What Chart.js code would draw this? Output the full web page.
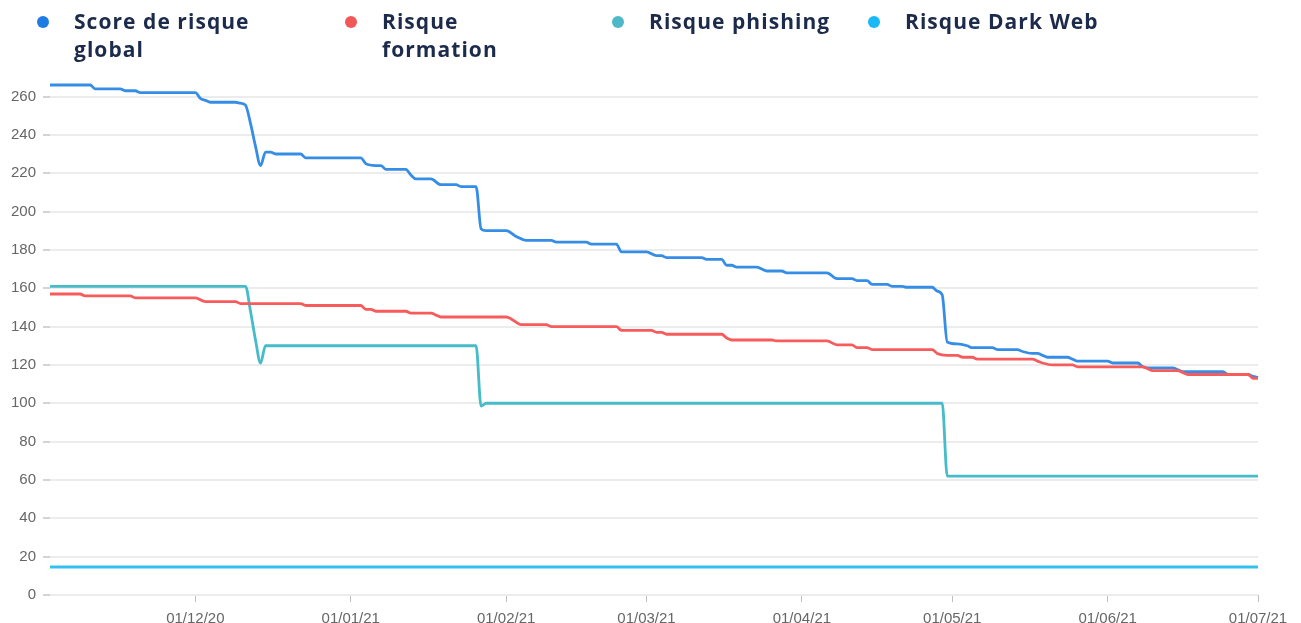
<!DOCTYPE html>
<html lang="fr">
<head>
<meta charset="utf-8">
<title>Évolution du score de risque</title>
<script src="https://cdn.jsdelivr.net/npm/chart.js@4.4.1/dist/chart.umd.min.js"></script>
<style>
  html, body { margin: 0; padding: 0; background: #fff; overflow: hidden; }
  #wrap { position: relative; width: 1301px; height: 623px; overflow: hidden; }
  #chart { position: absolute; left: 0; top: 0; }
  .legend-item {
    position: absolute; top: 0;
    font-family: 'Open Sans', sans-serif; font-weight: 700;
    font-size: 21px; line-height: 28px; letter-spacing: 1.05px;
    color: #1c2b4b;
  }
  .legend-item .dot { position: absolute; top: 16px; left: 0; width: 12px; height: 12px; border-radius: 50%; }
  .legend-item .label { position: absolute; top: 7px; left: 37px; white-space: pre; }
  .legend-item:nth-child(1) { left: 37px; }
  .legend-item:nth-child(2) { left: 345px; }
  .legend-item:nth-child(3) { left: 612px; }
  .legend-item:nth-child(4) { left: 868px; }
</style>
</head>
<body>
<div id="wrap">
  <canvas id="chart" width="1301" height="636"></canvas>
  <div id="legend"></div>
</div>
<script>
const seriesNames = ['Score de risque global', 'Risque formation', 'Risque phishing', 'Risque Dark Web'];
const legendText = ['Score de risque\nglobal', 'Risque\nformation', 'Risque phishing', 'Risque Dark Web'];
const lineColors = ['#368de6', '#f75b5b', '#45bcc8', '#33c0f1'];
const dotColors = ['#1f7be4', '#f25757', '#4cb8c8', '#1ab8f4'];

// Score de risque global
const scoreDates = [
  '2020-11-02', '2020-11-10', '2020-11-11', '2020-11-16', '2020-11-17', '2020-11-19', '2020-11-20',
  '2020-12-01', '2020-12-02', '2020-12-03', '2020-12-04', '2020-12-09', '2020-12-10', '2020-12-11',
  '2020-12-12', '2020-12-13', '2020-12-14', '2020-12-15', '2020-12-16', '2020-12-17', '2020-12-22',
  '2020-12-23', '2021-01-03', '2021-01-04', '2021-01-06', '2021-01-07', '2021-01-08', '2021-01-12',
  '2021-01-13', '2021-01-14', '2021-01-17', '2021-01-19', '2021-01-22', '2021-01-23', '2021-01-26',
  '2021-01-27', '2021-01-28', '2021-02-01', '2021-02-03', '2021-02-05', '2021-02-10', '2021-02-11',
  '2021-02-17', '2021-02-18', '2021-02-23', '2021-02-24', '2021-03-01', '2021-03-03', '2021-03-04',
  '2021-03-05', '2021-03-12', '2021-03-13', '2021-03-16', '2021-03-17', '2021-03-18', '2021-03-19',
  '2021-03-23', '2021-03-25', '2021-03-28', '2021-03-29', '2021-04-06', '2021-04-08', '2021-04-11',
  '2021-04-12', '2021-04-14', '2021-04-15', '2021-04-18', '2021-04-19', '2021-04-21', '2021-04-22',
  '2021-04-27', '2021-04-28', '2021-04-29', '2021-04-30', '2021-05-02', '2021-05-04', '2021-05-05',
  '2021-05-09', '2021-05-10', '2021-05-14', '2021-05-15', '2021-05-17', '2021-05-18', '2021-05-19',
  '2021-05-20', '2021-05-24', '2021-05-25', '2021-05-26', '2021-06-01', '2021-06-02', '2021-06-07',
  '2021-06-08', '2021-06-09', '2021-06-14', '2021-06-16', '2021-06-24', '2021-06-25', '2021-06-29',
  '2021-06-30', '2021-07-01'
];
const scoreValues = [
  266, 266, 264, 264, 263, 263, 262,
  262, 259, 258, 257, 257, 256.5, 255.5,
  246, 234, 224, 231, 231, 230, 230,
  228, 228, 225, 224, 224, 222, 222,
  219, 217, 217, 214, 214, 213, 213,
  191, 190, 190, 187, 185, 185, 184,
  184, 183, 183, 179, 179, 177, 177,
  176, 176, 175, 175, 172, 172, 171,
  171, 169, 169, 168, 168, 165, 165,
  164, 164, 162, 162, 161, 161, 160.5,
  160.5, 158.5, 156.5, 132, 131, 130, 129,
  129, 128, 128, 127, 126, 126, 125,
  124, 124, 123, 122, 122, 121, 121,
  119, 118.5, 118.5, 116.5, 116.5, 115, 115,
  114, 113.5
];

// Risque formation
const trainingDates = [
  '2020-11-02', '2020-11-08', '2020-11-09', '2020-11-18', '2020-11-19', '2020-12-01', '2020-12-03',
  '2020-12-09', '2020-12-10', '2020-12-22', '2020-12-23', '2021-01-03', '2021-01-04', '2021-01-05',
  '2021-01-06', '2021-01-12', '2021-01-13', '2021-01-17', '2021-01-18', '2021-01-19', '2021-02-01',
  '2021-02-02', '2021-02-04', '2021-02-09', '2021-02-10', '2021-02-23', '2021-02-24', '2021-03-02',
  '2021-03-03', '2021-03-04', '2021-03-05', '2021-03-16', '2021-03-17', '2021-03-18', '2021-03-26',
  '2021-03-27', '2021-04-06', '2021-04-08', '2021-04-11', '2021-04-12', '2021-04-14', '2021-04-15',
  '2021-04-27', '2021-04-28', '2021-04-30', '2021-05-02', '2021-05-03', '2021-05-05', '2021-05-06',
  '2021-05-17', '2021-05-18', '2021-05-19', '2021-05-21', '2021-05-25', '2021-05-26', '2021-06-08',
  '2021-06-09', '2021-06-10', '2021-06-15', '2021-06-16', '2021-06-17', '2021-06-29', '2021-06-30',
  '2021-07-01'
];
const trainingValues = [
  157, 157, 156, 156, 155, 155, 153,
  153, 152, 152, 151, 151, 149, 149,
  148, 148, 147, 147, 146, 145, 145,
  144, 141, 141, 140, 140, 138, 138,
  137, 137, 136, 136, 134, 133, 133,
  132.5, 132.5, 130.5, 130.5, 129, 129, 128,
  128, 126, 125, 125, 124, 124, 123,
  123, 122, 121, 120, 120, 119, 119,
  118, 117, 117, 116, 115, 115, 113,
  113
];

// Risque phishing
const phishingDates = [
  '2020-11-02', '2020-12-11', '2020-12-12', '2020-12-13', '2020-12-14', '2020-12-15',
  '2021-01-26', '2021-01-27', '2021-01-28', '2021-04-29', '2021-04-30', '2021-07-01'
];
const phishingValues = [161, 161, 148, 133, 121, 130, 130, 98.5, 100, 100, 62, 62];

// Risque Dark Web
const darkWebDates = ['2020-11-02', '2021-07-01'];
const darkWebValues = [14.6, 14.6];

const xStart = '2020-11-02';
const xEnd = '2021-07-01';
const xTickDates = ['2020-12-01', '2021-01-01', '2021-02-01', '2021-03-01', '2021-04-01', '2021-05-01', '2021-06-01', '2021-07-01'];
const xTickLabels = ['01/12/20', '01/01/21', '01/02/21', '01/03/21', '01/04/21', '01/05/21', '01/06/21', '01/07/21'];
const yTicks = [0, 20, 40, 60, 80, 100, 120, 140, 160, 180, 200, 220, 240, 260];
const yMax = 266;


function toDay(date) {
    return (Date.parse(date) - Date.parse(xStart)) / 86400000;
}

function toPoints(dates, values) {
    return dates.map((d, i) => ({ x: toDay(d), y: values[i] }));
}


function buildLegend() {
    const legend = document.getElementById('legend');
    legendText.forEach((text, i) => {
        const item = document.createElement('div');
        item.className = 'legend-item';
        const dot = document.createElement('span');
        dot.className = 'dot';
        dot.style.background = dotColors[i];
        const label = document.createElement('span');
        label.className = 'label';
        label.textContent = text;
        item.appendChild(dot);
        item.appendChild(label);
        legend.appendChild(item);
    });
}


function createChart() {
    const series = [
        toPoints(scoreDates, scoreValues),
        toPoints(trainingDates, trainingValues),
        toPoints(phishingDates, phishingValues),
        toPoints(darkWebDates, darkWebValues)
    ];
    // formation is drawn on top of the global score where they meet
    const drawOrder = [1, 0, 2, 3];
    const tickFont = { family: "'Liberation Sans', Arial, sans-serif", size: 15 };

    new Chart(document.getElementById('chart'), {
        type: 'line',
        data: {
            datasets: series.map((data, i) => ({
                label: seriesNames[i],
                data: data,
                borderColor: lineColors[i],
                backgroundColor: lineColors[i],
                order: drawOrder[i],
                clip: false
            }))
        },
        options: {
            responsive: false,
            animation: false,
            layout: { padding: { top: 85, right: 43, bottom: 0, left: 0 } },
            elements: {
                point: { radius: 0 },
                line: { borderWidth: 2.8, cubicInterpolationMode: 'monotone' }
            },
            plugins: {
                legend: { display: false },
                tooltip: { enabled: false }
            },
            scales: {
                x: {
                    type: 'linear',
                    min: 0,
                    max: toDay(xEnd),
                    bounds: 'data',
                    border: { display: false },
                    grid: { drawOnChartArea: false, tickLength: 7, tickColor: '#bdbdbd', lineWidth: 1 },
                    ticks: {
                        color: '#666',
                        font: tickFont,
                        padding: 8,
                        autoSkip: false,
                        maxRotation: 0,
                        callback: (value, index) => xTickLabels[index]
                    },
                    afterBuildTicks: scale => {
                        scale.ticks = xTickDates.map(d => ({ value: toDay(d) }));
                    }
                },
                y: {
                    min: 0,
                    max: yMax,
                    bounds: 'data',
                    border: { display: false },
                    grid: { color: '#ececec', lineWidth: 2, tickLength: 7, tickColor: '#d4d4d4' },
                    ticks: {
                        padding: 7,
                        color: '#666',
                        font: tickFont
                    },
                    afterBuildTicks: scale => {
                        scale.ticks = yTicks.map(v => ({ value: v }));
                    },
                    afterFit: scale => { scale.width = 50; }
                }
            }
        }
    });
}


buildLegend();
createChart();
</script>
</body>
</html>
